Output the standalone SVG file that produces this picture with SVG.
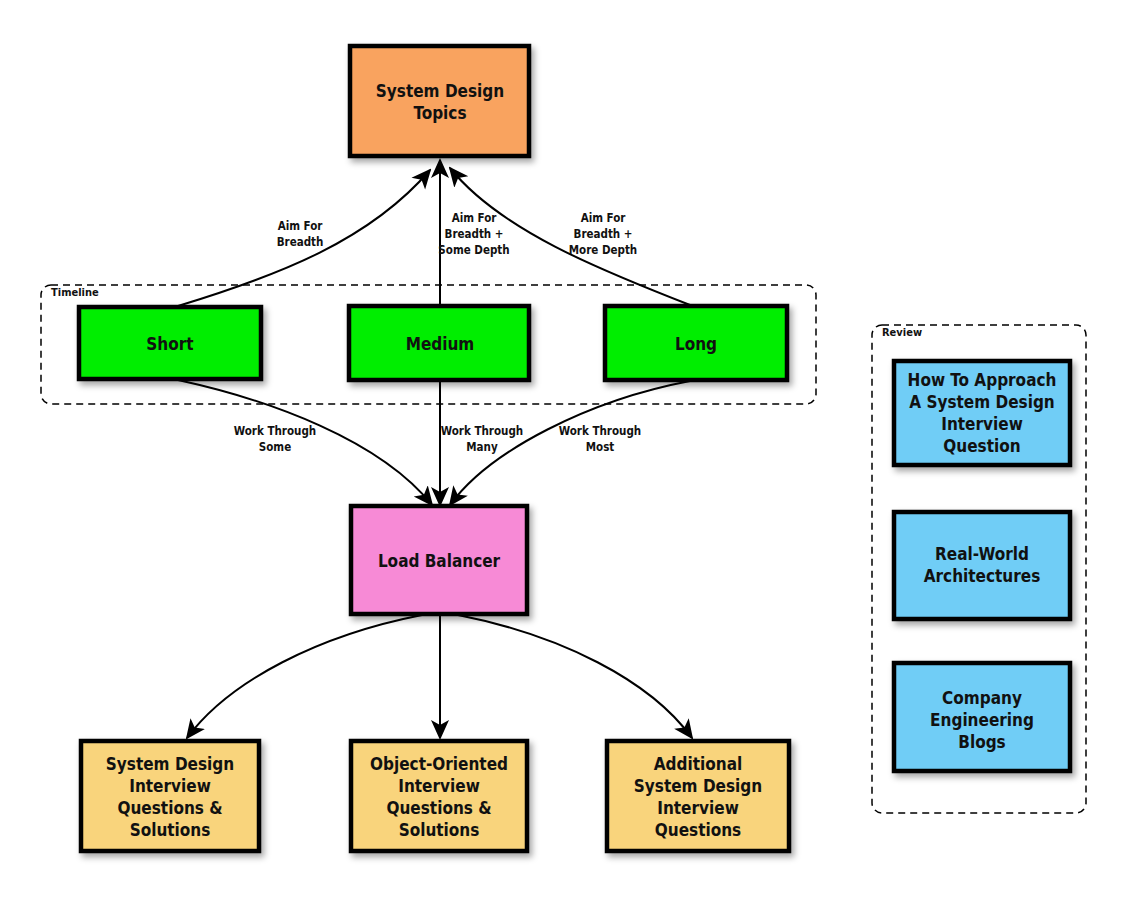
<svg xmlns="http://www.w3.org/2000/svg" width="1128" height="906" viewBox="0 0 1128 906">
<defs>
<filter id="sh" x="-10%" y="-10%" width="130%" height="130%"><feDropShadow dx="3" dy="4" stdDeviation="3" flood-color="#000" flood-opacity="0.35"/></filter>
<marker id="ah" viewBox="0 0 20 20" refX="18" refY="10" markerWidth="20" markerHeight="20" markerUnits="userSpaceOnUse" orient="auto"><path d="M0,1 L20,10 L0,19 L5,10 Z" fill="#000"/></marker>
</defs>
<style>
.n{stroke:#000;stroke-width:4.5;filter:url(#sh)}
.t{font-family:"DejaVu Sans Condensed","DejaVu Sans",sans-serif;font-weight:bold;font-size:17px;text-anchor:middle;fill:#111}
.l{font-family:"DejaVu Sans Condensed","DejaVu Sans",sans-serif;font-weight:bold;font-size:11.5px;text-anchor:middle;fill:#111}
.g{fill:none;stroke:#000;stroke-width:1.5;stroke-dasharray:7,5}
.gl{font-family:"DejaVu Sans Condensed","DejaVu Sans",sans-serif;font-weight:bold;font-size:11px;fill:#111}
.c{fill:none;stroke:#000;stroke-width:2;marker-end:url(#ah)}
.o{fill:#F9A35E}.gr{fill:#00EE00}.p{fill:#F78AD6}.y{fill:#F9D47C}.b{fill:#6FCDF6}
</style>
<g id="timeline"><rect class="g" x="41" y="285" width="775" height="119" rx="10"/><text class="gl" x="51" y="296">Timeline</text></g>
<g id="review"><rect class="g" x="872" y="325" width="214" height="488" rx="10"/><text class="gl" x="882" y="336">Review</text></g>
<g id="connectors">
<path class="c" d="M178,306 C280,275 370,240 430,170"/>
<path class="c" d="M440,305 L440,160"/>
<path class="c" d="M690,305 C600,270 500,230 450,168"/>
<path class="c" d="M178,380 C270,400 380,440 432,505"/>
<path class="c" d="M440,381 L440,505"/>
<path class="c" d="M690,381 C590,400 490,450 450,505"/>
<path class="c" d="M422,615 C320,635 230,680 187,738"/>
<path class="c" d="M440,615 L440,738"/>
<path class="c" d="M458,615 C560,635 650,680 692,738"/>
<text class="l" x="300" y="230">Aim For</text><text class="l" x="300" y="246">Breadth</text>
<text class="l" x="474" y="222">Aim For</text><text class="l" x="474" y="238">Breadth +</text><text class="l" x="474" y="254">Some Depth</text>
<text class="l" x="603" y="222">Aim For</text><text class="l" x="603" y="238">Breadth +</text><text class="l" x="603" y="254">More Depth</text>
<text class="l" x="275" y="435">Work Through</text><text class="l" x="275" y="451">Some</text>
<text class="l" x="482" y="435">Work Through</text><text class="l" x="482" y="451">Many</text>
<text class="l" x="600" y="435">Work Through</text><text class="l" x="600" y="451">Most</text>
</g>
<g id="topics"><rect class="n o" x="350" y="46" width="179" height="110"/><text class="t" x="440" y="97">System Design</text><text class="t" x="440" y="119">Topics</text></g>
<g id="short"><rect class="n gr" x="79" y="307" width="182" height="72"/><text class="t" x="170" y="350">Short</text></g>
<g id="medium"><rect class="n gr" x="349" y="306" width="180" height="74"/><text class="t" x="440" y="350">Medium</text></g>
<g id="long"><rect class="n gr" x="605" y="306" width="182" height="74"/><text class="t" x="696" y="350">Long</text></g>
<g id="lb"><rect class="n p" x="351" y="506" width="176" height="108"/><text class="t" x="439" y="567">Load Balancer</text></g>
<g id="sdq"><rect class="n y" x="81" y="741" width="178" height="110"/><text class="t" x="170" y="770">System Design</text><text class="t" x="170" y="792">Interview</text><text class="t" x="170" y="814">Questions &amp;</text><text class="t" x="170" y="836">Solutions</text></g>
<g id="ooq"><rect class="n y" x="351" y="741" width="176" height="110"/><text class="t" x="439" y="770">Object-Oriented</text><text class="t" x="439" y="792">Interview</text><text class="t" x="439" y="814">Questions &amp;</text><text class="t" x="439" y="836">Solutions</text></g>
<g id="asdq"><rect class="n y" x="607" y="741" width="182" height="110"/><text class="t" x="698" y="770">Additional</text><text class="t" x="698" y="792">System Design</text><text class="t" x="698" y="814">Interview</text><text class="t" x="698" y="836">Questions</text></g>
<g id="approach"><rect class="n b" x="894" y="361" width="176" height="104"/><text class="t" x="982" y="386">How To Approach</text><text class="t" x="982" y="408">A System Design</text><text class="t" x="982" y="430">Interview</text><text class="t" x="982" y="452">Question</text></g>
<g id="realworld"><rect class="n b" x="894" y="512" width="176" height="107"/><text class="t" x="982" y="560">Real-World</text><text class="t" x="982" y="582">Architectures</text></g>
<g id="blogs"><rect class="n b" x="894" y="663" width="176" height="108"/><text class="t" x="982" y="704">Company</text><text class="t" x="982" y="726">Engineering</text><text class="t" x="982" y="748">Blogs</text></g>
</svg>
